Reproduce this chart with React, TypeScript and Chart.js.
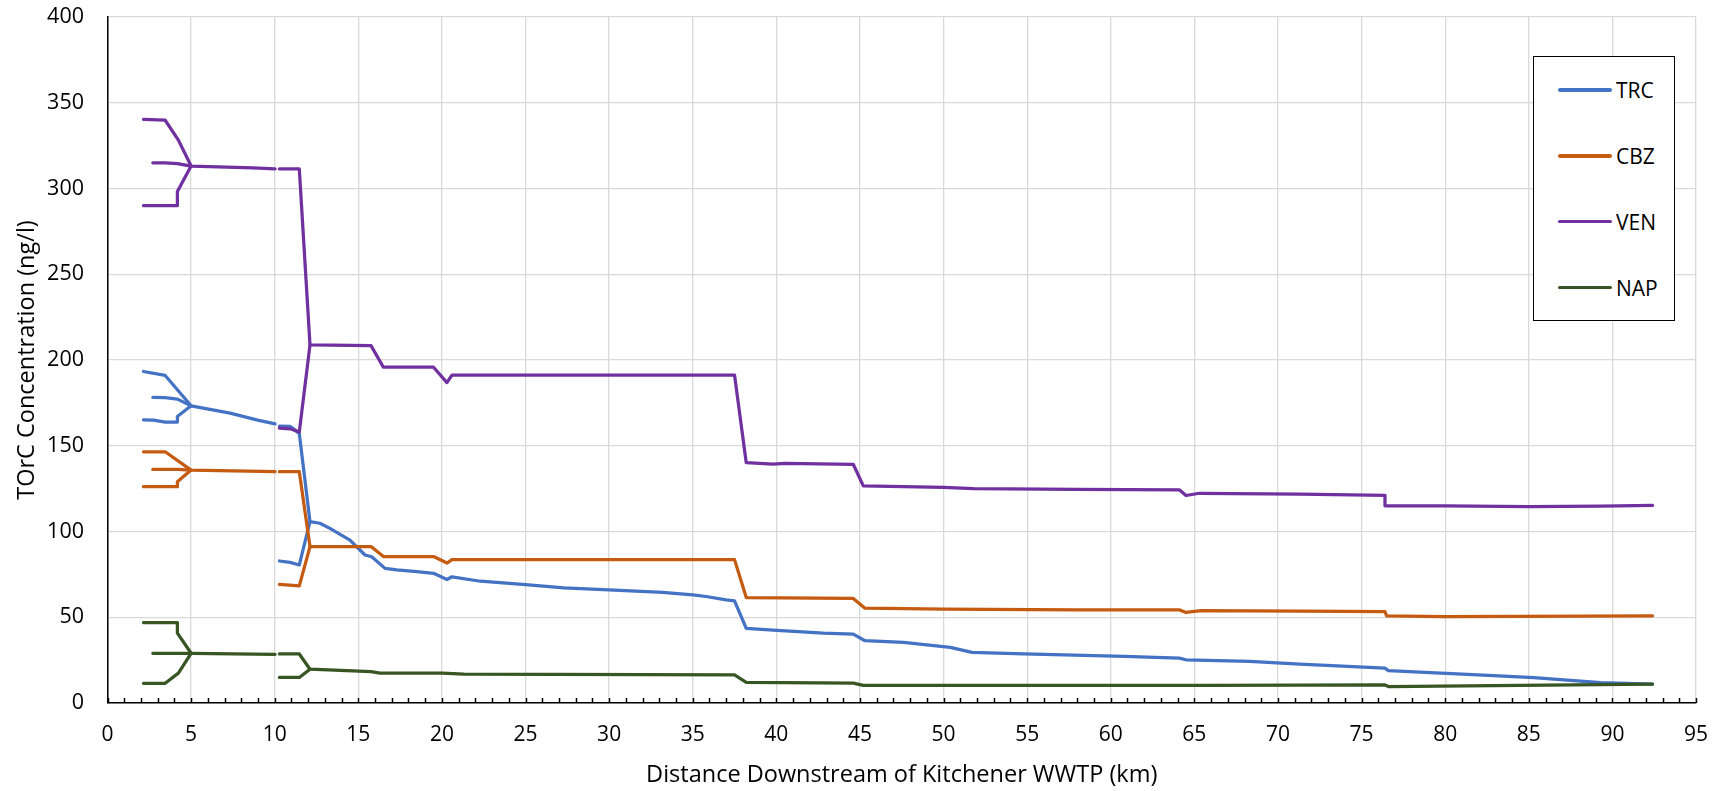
import React, { useEffect, useRef } from 'react';
import { Chart, registerables } from 'chart.js';

Chart.register(...registerables);

type Pt = [number, number];

// ---- axes ----
const X_MIN = 0;
const X_MAX = 95;
const X_STEP = 5;
const X_MINOR_STEP = 1;
const Y_MIN = 0;
const Y_MAX = 400;
const Y_STEP = 50;
const X_TITLE = 'Distance Downstream of Kitchener WWTP (km)';
const Y_TITLE = 'TOrC Concentration (ng/l)';

// ---- series ----
const SERIES = ['TRC', 'CBZ', 'VEN', 'NAP'];
const COLORS = ['#4472C4', '#C55A11', '#7030A0', '#375623'];

// TRC
const TRC_UP1: Pt[] = [[2.15, 193.3], [3.45, 191], [5, 173.3]];
const TRC_MAIN1: Pt[] = [[2.71, 178.2], [3.45, 178], [4.18, 177.2], [5, 173.3], [7.33, 169], [8.92, 165.1], [10.02, 162.8]];
const TRC_LOW1: Pt[] = [[2.15, 165.1], [2.75, 165], [3.45, 163.8], [4.18, 163.8], [4.18, 167.1], [5, 173.3]];
const TRC_MAIN2: Pt[] = [
  [10.28, 161.5], [10.92, 161.3], [11.47, 157.2], [12.11, 105.7], [12.7, 104.8], [13.3, 101.8],
  [14.5, 95], [15.4, 86.3], [15.8, 85.3], [16.6, 78.5], [17.3, 77.6], [18.5, 76.6], [19.5, 75.6],
  [20.3, 72], [20.6, 73.6], [22.3, 71], [25, 69], [27.3, 67.1], [30, 65.9], [33.2, 64.5], [35, 63.1],
  [35.8, 62.1], [37, 60.1], [37.5, 59.5], [38.2, 43.5], [39.8, 42.5], [42.8, 40.8], [44.6, 40.2],
  [45.3, 36.3], [47.6, 35.3], [50.4, 32.4], [51.7, 29.5], [54.8, 28.7], [60.8, 27.2], [64.1, 26.2],
  [64.5, 25.2], [68.3, 24.2], [71.3, 22.6], [76.4, 20.3], [76.6, 18.9], [82.9, 16], [85.3, 14.8],
  [89.3, 11.9], [92.4, 11],
];
const TRC_LOW2: Pt[] = [[10.28, 82.8], [10.92, 82], [11.47, 80.5], [12.11, 105.7]];

// CBZ
const CBZ_UP1: Pt[] = [[2.15, 146.5], [3.45, 146.5], [5, 135.8]];
const CBZ_MAIN1: Pt[] = [[2.71, 136.2], [4.18, 136.2], [5, 135.8], [10.02, 134.9]];
const CBZ_LOW1: Pt[] = [[2.15, 126.1], [4.18, 126.1], [4.18, 129], [5, 135.8]];
const CBZ_MAIN2: Pt[] = [
  [10.28, 134.9], [11.47, 134.9], [12.11, 91.2], [15.76, 91.2], [16.5, 85.4], [19.5, 85.4],
  [20.3, 81.6], [20.6, 83.6], [37.5, 83.6], [38.2, 61.5], [44.6, 61], [45.3, 55.3], [50, 54.7],
  [58, 54.3], [64.1, 54.3], [64.5, 52.8], [65.4, 53.8], [71.3, 53.6], [76.4, 53.3], [76.5, 50.8],
  [80, 50.4], [92.4, 50.8],
];
const CBZ_LOW2: Pt[] = [[10.28, 69.2], [11.47, 68.3], [12.11, 91.2]];

// VEN
const VEN_UP1: Pt[] = [[2.15, 340.3], [3.45, 339.8], [4.24, 328.2], [5, 313.1]];
const VEN_MAIN1: Pt[] = [[2.71, 315], [3.45, 315], [4.18, 314.5], [5, 313.1], [8.7, 312], [10.02, 311.4]];
const VEN_LOW1: Pt[] = [[2.15, 290], [4.18, 290], [4.18, 298.2], [5, 313.1]];
const VEN_MAIN2: Pt[] = [
  [10.28, 311.4], [11.47, 311.4], [12.11, 208.8], [15.76, 208.4], [16.5, 195.8], [19.5, 195.8],
  [20.3, 186.8], [20.6, 191.2], [37.5, 191.2], [38.2, 140.1], [39.8, 139.3], [40.5, 139.7],
  [44.6, 139.2], [45.2, 126.6], [50, 125.8], [51.8, 125], [58, 124.6], [64.1, 124.3], [64.5, 121],
  [65.3, 122.3], [71.3, 121.8], [76.4, 121], [76.4, 115], [80, 115], [85, 114.5], [89.3, 114.8],
  [92.4, 115.2],
];
const VEN_LOW2: Pt[] = [[10.28, 160.3], [10.92, 159.9], [11.47, 158], [12.11, 208.8]];

// NAP
const NAP_UP1: Pt[] = [[2.15, 46.9], [4.18, 46.9], [4.18, 40.7], [5, 29]];
const NAP_MAIN1: Pt[] = [[2.71, 29], [5, 29], [10.02, 28.4]];
const NAP_LOW1: Pt[] = [[2.15, 11.5], [3.45, 11.5], [4.24, 17.4], [5, 29]];
const NAP_MAIN2: Pt[] = [
  [10.28, 28.6], [11.47, 28.6], [12.11, 19.7], [15.76, 18.3], [16.3, 17.4], [20, 17.4],
  [21.3, 16.8], [37.5, 16.4], [38.2, 12], [44.6, 11.6], [45.2, 10.3], [66, 10.3], [76.4, 10.6],
  [76.6, 9.6], [92.4, 11],
];
const NAP_LOW2: Pt[] = [[10.28, 14.9], [11.47, 14.9], [12.11, 19.7]];

const SEGMENTS: Pt[][][] = [
  [TRC_UP1, TRC_MAIN1, TRC_LOW1, TRC_MAIN2, TRC_LOW2],
  [CBZ_UP1, CBZ_MAIN1, CBZ_LOW1, CBZ_MAIN2, CBZ_LOW2],
  [VEN_UP1, VEN_MAIN1, VEN_LOW1, VEN_MAIN2, VEN_LOW2],
  [NAP_UP1, NAP_MAIN1, NAP_LOW1, NAP_MAIN2, NAP_LOW2],
];

const FONT = "'Open Sans', 'Liberation Sans', sans-serif";
const W = 1729;
const H = 791;

const minorTicks = {
  id: 'minorTicks',
  afterDraw(chart: any) {
    const xs = chart.scales.x;
    const ctx = chart.ctx;
    const b = chart.chartArea.bottom;
    ctx.save();
    ctx.strokeStyle = '#000';
    ctx.lineWidth = 1.5;
    for (let v = X_MIN; v <= X_MAX; v += X_MINOR_STEP) {
      const px = Math.round(xs.getPixelForValue(v)) + 0.5;
      ctx.beginPath();
      ctx.moveTo(px, b);
      ctx.lineTo(px, b - 5);
      ctx.stroke();
    }
    ctx.restore();
  },
};

function ChartView() {
  const ref = useRef<HTMLCanvasElement | null>(null);
  useEffect(() => {
    if (!ref.current) return;
    const datasets = SEGMENTS.flatMap((segs, i) =>
      segs.map((seg) => ({
        label: SERIES[i],
        data: seg.map(([x, y]) => ({ x, y })),
        borderColor: COLORS[i],
        backgroundColor: COLORS[i],
        borderWidth: 3.25,
        pointRadius: 0,
        pointHoverRadius: 0,
        fill: false,
        tension: 0,
        order: SERIES.length - i,
        borderJoinStyle: 'round' as const,
        borderCapStyle: 'round' as const,
      }))
    );
    const chart = new Chart(ref.current, {
      type: 'line',
      data: { datasets },
      options: {
        animation: false,
        responsive: false,
        devicePixelRatio: 1,
        layout: { padding: { top: 17, right: 33, bottom: 0, left: 0 } },
        plugins: { legend: { display: false }, tooltip: { enabled: false } },
        scales: {
          x: {
            type: 'linear',
            min: X_MIN,
            max: X_MAX,
            ticks: { stepSize: X_STEP, color: '#000', padding: 2, font: { family: FONT, size: 21 } },
            grid: { color: '#D9D9D9', lineWidth: 1.3, drawTicks: true, tickLength: 17, tickColor: 'rgba(0,0,0,0)' },
            border: { color: '#000', width: 1.5 },
            title: {
              display: true,
              text: X_TITLE,
              color: '#000',
              font: { family: FONT, size: 23.5 },
              padding: { top: 0, bottom: 2 },
            },
            afterFit(scale: any) {
              scale.height = 88;
            },
          },
          y: {
            type: 'linear',
            min: Y_MIN,
            max: Y_MAX,
            ticks: { stepSize: Y_STEP, color: '#000', padding: 3, font: { family: FONT, size: 21.5 } },
            grid: { color: '#D9D9D9', lineWidth: 1.3, drawTicks: true, tickLength: 20.5, tickColor: 'rgba(0,0,0,0)' },
            border: { color: '#000', width: 1.5 },
            title: {
              display: true,
              text: Y_TITLE,
              color: '#000',
              font: { family: FONT, size: 23.5 },
              padding: { top: 13.5, bottom: 0 },
            },
            afterFit(scale: any) {
              scale.width = 107.5;
            },
          },
        },
      },
      plugins: [minorTicks],
    });
    return () => chart.destroy();
  }, []);
  return <canvas ref={ref} width={W} height={H} style={{ display: 'block' }} />;
}

const LEGEND_CENTERS = [90, 156, 221.7, 287.7];

export default function App() {
  return (
    <div style={{ position: 'absolute', left: 0, top: 0, width: W, height: H, background: '#fff', overflow: 'hidden' }}>
      <ChartView />
      <div
        style={{
          position: 'absolute',
          left: 1533,
          top: 56,
          width: 142,
          height: 265,
          border: '1.5px solid #000',
          background: '#fff',
          boxSizing: 'border-box',
        }}
      />
      {SERIES.map((name, i) => (
        <React.Fragment key={name}>
          <div
            style={{
              position: 'absolute',
              left: 1558,
              top: LEGEND_CENTERS[i] - 1.6,
              width: 54,
              height: 3.25,
              borderRadius: 2,
              background: COLORS[i],
            }}
          />
          <div
            style={{
              position: 'absolute',
              left: 1616,
              top: LEGEND_CENTERS[i] - 15,
              height: 30,
              lineHeight: '30px',
              fontFamily: FONT,
              fontSize: 21,
              color: '#000',
              whiteSpace: 'nowrap',
            }}
          >
            {name}
          </div>
        </React.Fragment>
      ))}
    </div>
  );
}
